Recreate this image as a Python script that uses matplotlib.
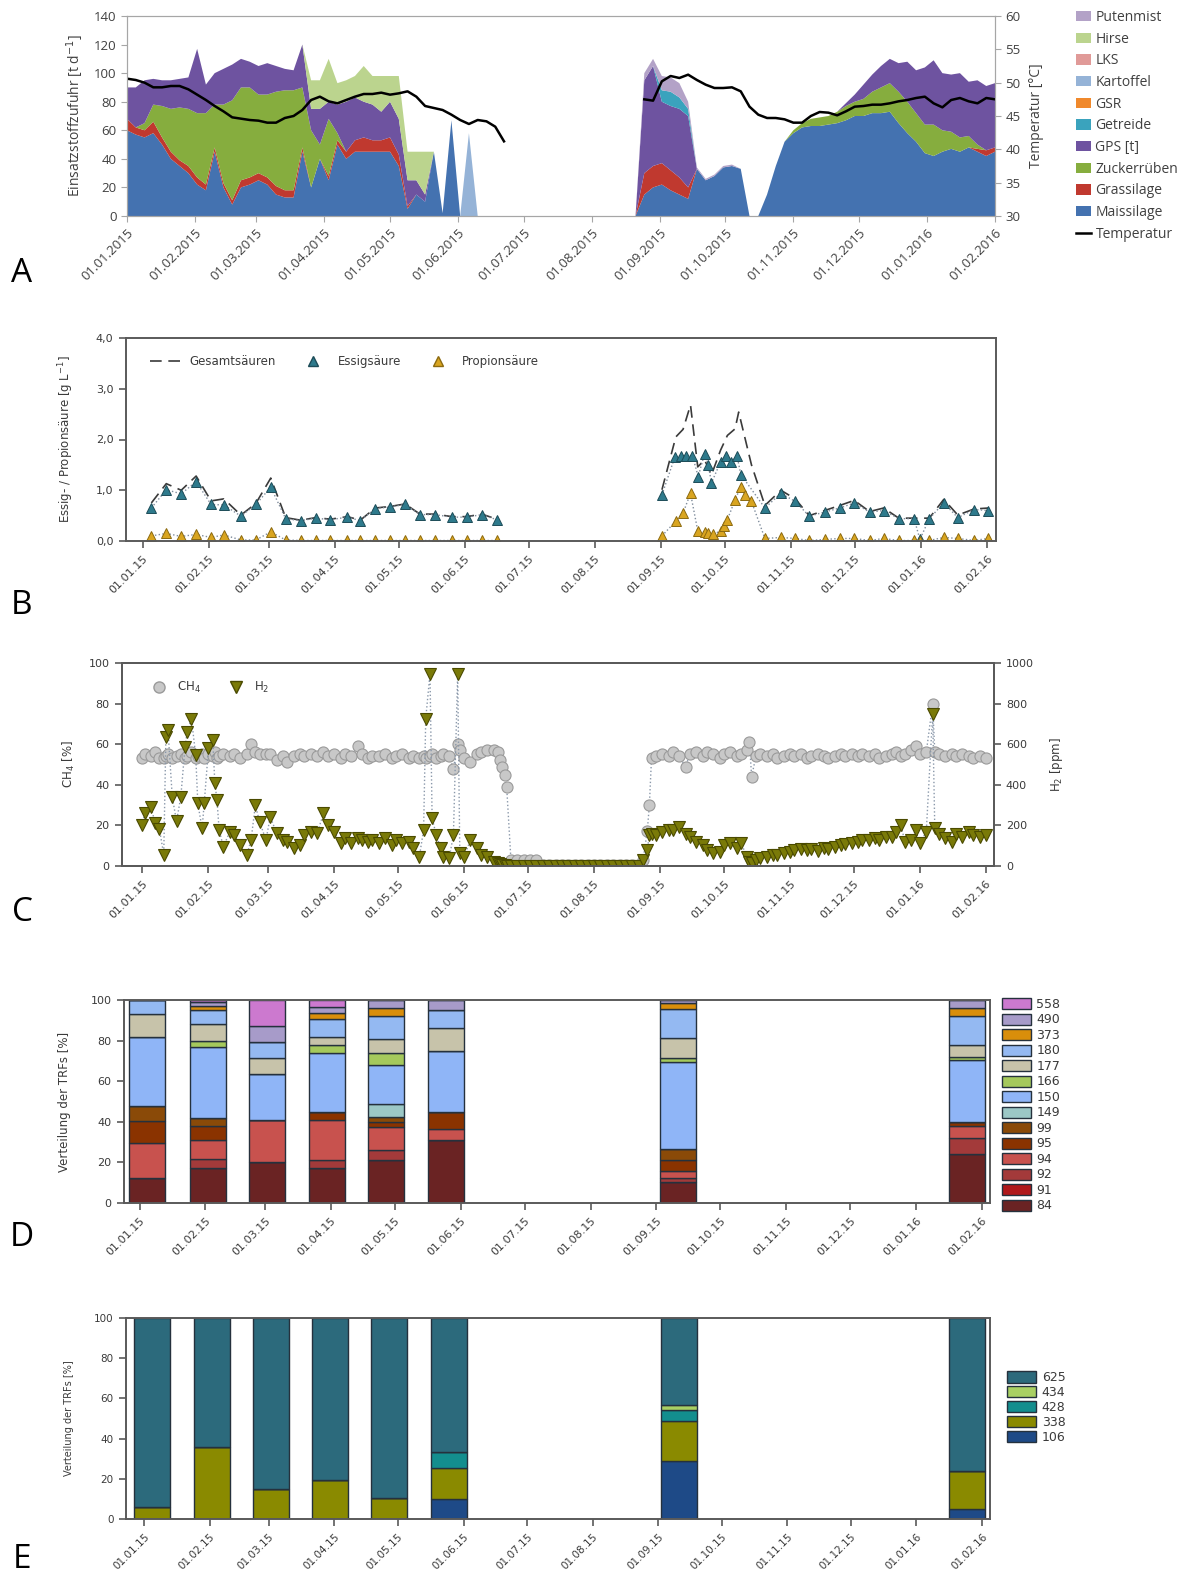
"""
Fermenter-Übersicht: Einsatzstoffe, Säuren, Gaszusammensetzung, TRF-Verteilungen (A-E)
"""

import numpy as np
import pandas as pd
import matplotlib
matplotlib.use("Agg")
import matplotlib.pyplot as plt
import matplotlib.dates as mdates
from matplotlib.lines import Line2D
from matplotlib.patches import Patch
from matplotlib.ticker import FuncFormatter

plt.rcParams['font.family'] = ['DejaVu Sans']
FONT_A = ['Open Sans', 'DejaVu Sans']

# ---------------- Daten A: Einsatzstoffzufuhr (4-Tages-Raster ab 01.01.2015) ----------------
a_mais = [
    60, 57, 55, 58, 50, 40, 35, 30, 22, 18,
    45, 20, 8, 20, 22, 25, 22, 15, 13, 13,
    45, 20, 40, 25, 50, 40, 45, 45, 45, 45,
    45, 35, 5, 15, 10, 45, 2, 67, 0, 0,
    0, 0, 0, 0, 0, 0, 0, 0, 0, 0,
    0, 0, 0, 0, 0, 0, 0, 0, 0, 15,
    20, 22, 18, 15, 12, 33, 25, 28, 34, 35,
    33, 0, 0, 15, 35, 52, 58, 62, 63, 63,
    64, 65, 67, 70, 70, 72, 72, 73, 65, 58,
    52, 44, 42, 45, 47, 45, 48, 45, 42, 45]
a_gras = [
    8, 5, 5, 8, 5, 5, 4, 5, 5, 4,
    3, 3, 3, 5, 5, 5, 5, 6, 5, 5,
    3, 0, 0, 3, 3, 5, 8, 10, 8, 8,
    10, 8, 2, 0, 0, 0, 0, 0, 0, 0,
    0, 0, 0, 0, 0, 0, 0, 0, 0, 0,
    0, 0, 0, 0, 0, 0, 0, 0, 0, 15,
    15, 15, 14, 12, 8, 0, 0, 0, 0, 0,
    0, 0, 0, 0, 0, 0, 0, 0, 0, 0,
    0, 0, 0, 0, 0, 0, 0, 0, 0, 0,
    0, 0, 0, 0, 0, 0, 0, 2, 4, 3]
a_zucker = [
    0, 0, 5, 12, 22, 30, 37, 40, 45, 50,
    30, 55, 70, 65, 63, 55, 58, 66, 70, 70,
    42, 40, 10, 40, 5, 0, 0, 0, 0, 0,
    0, 0, 0, 0, 0, 0, 0, 0, 0, 0,
    0, 0, 0, 0, 0, 0, 0, 0, 0, 0,
    0, 0, 0, 0, 0, 0, 0, 0, 0, 0,
    0, 0, 0, 0, 0, 0, 0, 0, 0, 0,
    0, 0, 0, 0, 0, 0, 2, 3, 5, 6,
    6, 8, 10, 10, 12, 15, 18, 20, 22, 22,
    20, 20, 22, 15, 12, 10, 8, 3, 0, 0]
a_gps = [
    22, 28, 30, 18, 18, 20, 20, 22, 45, 20,
    22, 25, 25, 20, 18, 20, 22, 18, 15, 14,
    30, 15, 25, 12, 20, 35, 30, 25, 25, 20,
    25, 25, 18, 10, 5, 0, 0, 0, 0, 0,
    0, 0, 0, 0, 0, 0, 0, 0, 0, 0,
    0, 0, 0, 0, 0, 0, 0, 0, 0, 65,
    70, 43, 45, 48, 50, 0, 0, 0, 0, 0,
    0, 0, 0, 0, 0, 0, 0, 0, 0, 0,
    0, 0, 2, 5, 10, 12, 15, 17, 20, 28,
    30, 40, 45, 40, 40, 45, 38, 45, 45, 45]
a_getreide = [
    0, 0, 0, 0, 0, 0, 0, 0, 0, 0,
    0, 0, 0, 0, 0, 0, 0, 0, 0, 0,
    0, 0, 0, 0, 0, 0, 0, 0, 0, 0,
    0, 0, 0, 0, 0, 0, 0, 0, 0, 0,
    0, 0, 0, 0, 0, 0, 0, 0, 0, 0,
    0, 0, 0, 0, 0, 0, 0, 0, 0, 0,
    0, 8, 10, 8, 5, 0, 0, 0, 0, 0,
    0, 0, 0, 0, 0, 0, 0, 0, 0, 0,
    0, 0, 0, 0, 0, 0, 0, 0, 0, 0,
    0, 0, 0, 0, 0, 0, 0, 0, 0, 0]
a_kartoffel = [
    0, 0, 0, 0, 0, 0, 0, 0, 0, 0,
    0, 0, 0, 0, 0, 0, 0, 0, 0, 0,
    0, 0, 0, 0, 0, 0, 0, 0, 0, 0,
    0, 0, 0, 0, 0, 0, 0, 0, 0, 58,
    0, 0, 0, 0, 0, 0, 0, 0, 0, 0,
    0, 0, 0, 0, 0, 0, 0, 0, 0, 0,
    0, 0, 0, 0, 0, 0, 0, 0, 0, 0,
    0, 0, 0, 0, 0, 0, 0, 0, 0, 0,
    0, 0, 0, 0, 0, 0, 0, 0, 0, 0,
    0, 0, 0, 0, 0, 0, 0, 0, 0, 0]
a_hirse = [
    0, 0, 0, 0, 0, 0, 0, 0, 0, 0,
    0, 0, 0, 0, 0, 0, 0, 0, 0, 0,
    0, 20, 20, 30, 15, 15, 15, 25, 20, 25,
    18, 30, 20, 20, 30, 0, 0, 0, 0, 0,
    0, 0, 0, 0, 0, 0, 0, 0, 0, 0,
    0, 0, 0, 0, 0, 0, 0, 0, 0, 0,
    0, 0, 0, 0, 0, 0, 0, 0, 0, 0,
    0, 0, 0, 0, 0, 0, 0, 0, 0, 0,
    0, 0, 0, 0, 0, 0, 0, 0, 0, 0,
    0, 0, 0, 0, 0, 0, 0, 0, 0, 0]
a_putenmist = [
    0, 0, 0, 0, 0, 0, 0, 0, 0, 0,
    0, 0, 0, 0, 0, 0, 0, 0, 0, 0,
    0, 0, 0, 0, 0, 0, 0, 0, 0, 0,
    0, 0, 0, 0, 0, 0, 0, 0, 0, 0,
    0, 0, 0, 0, 0, 0, 0, 0, 0, 0,
    0, 0, 0, 0, 0, 0, 0, 0, 0, 5,
    5, 10, 10, 10, 5, 1, 1, 1, 1, 1,
    0, 0, 0, 0, 0, 0, 0, 0, 0, 0,
    0, 0, 0, 0, 0, 0, 0, 0, 0, 0,
    0, 0, 0, 0, 0, 0, 0, 0, 0, 0]
a_gsr = np.zeros(len(a_mais))   # im Bild nicht sichtbar
a_lks = np.zeros(len(a_mais))
nan = np.nan
a_temp = [
    50.6, 50.4, 50.0, 49.3, 49.3, 49.5, 49.5, 49.0, 48.2, 47.4,
    46.5, 45.7, 44.8, 44.6, 44.4, 44.3, 44.0, 44.0, 44.7, 45.0,
    45.9, 47.4, 47.9, 47.2, 46.9, 47.4, 47.9, 48.3, 48.3, 48.5,
    48.2, 48.4, 48.7, 47.9, 46.5, 46.2, 45.9, 45.2, 44.4, 43.8,
    44.4, 44.2, 43.4, 41.2, nan, nan, nan, nan, nan, nan,
    nan, nan, nan, nan, nan, nan, nan, nan, nan, 47.5,
    47.3, 50.2, 51.0, 50.7, 51.2, 50.4, 49.7, 49.2, 49.2, 49.3,
    48.7, 46.4, 45.2, 44.7, 44.7, 44.5, 44.0, 44.0, 45.0, 45.6,
    45.5, 45.1, 45.7, 46.4, 46.5, 46.7, 46.7, 46.9, 47.2, 47.4,
    47.7, 47.9, 46.9, 46.3, 47.4, 47.7, 47.2, 46.9, 47.7, 47.5]

a_names = ['Maissilage', 'Grassilage', 'Zuckerrüben', 'GPS [t]', 'Getreide',
           'GSR', 'Kartoffel', 'LKS', 'Hirse', 'Putenmist']
a_colors = ['#4472B0', '#C0392F', '#86AD3E', '#6E53A0', '#3AA3BD',
            '#F0892C', '#95B3D7', '#E09A98', '#BBD48E', '#B3A2C7']

# ---------------- Daten B: Säuren (Tage ab 01.01.2015) ----------------
b_ess_days = [4, 11, 18, 25, 32, 38, 46, 53, 60, 67, 74, 81, 88, 96, 102, 109, 116, 123,
              130, 137, 145, 152, 159, 166,
              243.5, 249.6, 252.5, 255, 257.8, 260.5, 263.5, 265.3, 266.7, 271, 273.4, 276,
              278.7, 280.5, 291.8, 299.3, 306, 312.6, 319.8, 326.9, 333.7, 340.9, 347.5,
              354.6, 361.8, 364.5, 368.9, 375.7, 382.3, 389.8, 396.6]
b_ess = [0.65, 1.01, 0.93, 1.17, 0.72, 0.71, 0.49, 0.72, 1.06, 0.44, 0.40, 0.45, 0.42, 0.47,
         0.40, 0.64, 0.67, 0.72, 0.52, 0.52, 0.47, 0.47, 0.52, 0.42,
         0.91, 1.66, 1.68, 1.68, 1.68, 1.27, 1.72, 1.50, 1.14, 1.56, 1.68, 1.56, 1.68, 1.31,
         0.65, 0.94, 0.78, 0.49, 0.57, 0.65, 0.75, 0.57, 0.60, 0.44, 0.44, 0.03, 0.44, 0.75,
         0.46, 0.62, 0.60]
b_prop_days = [4, 11, 18, 25, 32, 38, 46, 53, 60, 67, 74, 81, 88, 96, 102, 109, 116, 123,
               130, 137, 145, 152, 159, 166,
               243.5, 250, 253.4, 256.9, 260.3, 263.5, 265.3, 267.5, 271, 272.5, 274.2, 277.8,
               280.5, 282.3, 285.5, 291.8, 299.3, 306, 312.6, 319.8, 326.9, 333.7, 340.9,
               347.5, 354.6, 361.8, 364.5, 368.9, 375.7, 382.3, 389.8, 396.6]
b_prop = [0.10, 0.15, 0.09, 0.13, 0.07, 0.12, 0.02, 0.02, 0.18, 0.02, 0.01, 0.01, 0.01, 0.01,
          0.01, 0.01, 0.01, 0.01, 0.01, 0.01, 0.01, 0.01, 0.01, 0.01,
          0.10, 0.39, 0.55, 0.94, 0.20, 0.18, 0.15, 0.13, 0.20, 0.29, 0.42, 0.81, 1.07, 0.91,
          0.78, 0.05, 0.07, 0.05, 0.01, 0.03, 0.05, 0.05, 0.01, 0.05, 0.01, 0.01, 0.0, 0.01,
          0.07, 0.05, 0.01, 0.05]
b_ges_days = [4, 11, 18, 25, 32, 38, 46, 53, 60, 67, 74, 81, 88, 96, 102, 109, 116, 123,
              130, 137, 145, 152, 159, 166,
              243.5, 250, 253.4, 256.9, 260.3, 263.5, 266.7, 271, 274.2, 277.8, 279.5, 285.5,
              291.8, 299.3, 306, 312.6, 319.8, 326.9, 333.7, 340.9, 347.5, 354.6, 361.8,
              368.9, 375.7, 382.3, 389.8, 396.6]
b_ges = [0.75, 1.13, 1.00, 1.28, 0.79, 0.83, 0.51, 0.74, 1.24, 0.46, 0.41, 0.46, 0.43, 0.48,
         0.41, 0.65, 0.68, 0.73, 0.53, 0.53, 0.48, 0.48, 0.53, 0.43,
         1.01, 2.05, 2.20, 2.68, 1.46, 1.60, 1.30, 1.79, 2.08, 2.21, 2.54, 1.50, 0.70, 1.00,
         0.83, 0.50, 0.60, 0.70, 0.80, 0.58, 0.65, 0.45, 0.45, 0.45, 0.82, 0.51, 0.63, 0.65]

# ---------------- Daten C: CH4 [%] und H2 [ppm] ----------------
c_days = [0, 1, 4, 6, 8, 10, 11, 12, 14, 16,
          18, 20, 21, 23, 25, 26, 28, 29, 31, 33,
          34, 35, 36, 38, 41, 43, 46, 49, 51, 53,
          55, 58, 60, 63, 66, 68, 71, 74, 76, 79,
          82, 85, 87, 90, 93, 95, 98, 101, 103, 106,
          108, 111, 114, 117, 119, 122, 125, 127, 130, 132,
          133, 135, 136, 138, 140, 141, 144, 146, 148, 149,
          151, 154, 157, 159, 162, 165, 167, 168, 169, 170,
          171, 173, 176, 179, 182, 185, 188, 191, 194, 197,
          200, 203, 206, 209, 212, 215, 218, 221, 224, 227,
          230, 233, 235, 237, 238, 239, 241, 244, 247, 249,
          252, 255, 257, 260, 263, 265, 268, 271, 273, 276,
          279, 281, 284, 285, 286, 288, 290, 293, 296, 298,
          301, 304, 306, 309, 312, 314, 317, 320, 322, 325,
          328, 330, 333, 336, 338, 341, 344, 346, 349, 352,
          354, 356, 358, 361, 363, 365, 368, 371, 372, 374,
          377, 380, 382, 385, 388, 390, 393, 396]
c_h2 = [200, 260, 290, 210, 180, 55, 635, 670, 340, 220,
        340, 587, 660, 726, 546, 308, 185, 308, 579, 620,
        407, 325, 177, 95, 169, 152, 103, 54, 128, 300,
        218, 128, 243, 161, 128, 120, 87, 103, 152, 169,
        161, 259, 202, 169, 111, 136, 111, 136, 128, 120,
        128, 111, 136, 103, 128, 111, 120, 87, 46, 177,
        726, 948, 234, 152, 87, 46, 38, 152, 948, 62,
        46, 128, 87, 54, 46, 21, 13, 8, 5, 5,
        0, 0, 0, 0, 0, 0, 0, 0, 0, 0,
        0, 0, 0, 0, 0, 0, 0, 0, 0, 0,
        0, 0, 30, 79, 152, 160, 152, 169, 177, 177,
        190, 160, 144, 120, 103, 79, 62, 70, 103, 111,
        87, 111, 46, 21, 13, 30, 38, 46, 54, 54,
        62, 70, 79, 82, 79, 82, 75, 87, 82, 95,
        103, 108, 115, 120, 128, 128, 136, 128, 144, 144,
        169, 202, 120, 128, 177, 111, 169, 750, 185, 160,
        136, 120, 160, 144, 169, 152, 144, 152]
c_ch4 = [53, 55, 54, 56, 53, 53, 54, 55, 53, 54,
         55, 53, 54, 56, 53, 54, 55, 53, 55, 54,
         56, 53, 54, 55, 54, 55, 53, 55, 60, 56,
         55, 55, 55, 52, 54, 51, 54, 55, 54, 55,
         54, 56, 54, 55, 53, 55, 54, 59, 55, 53,
         54, 54, 55, 53, 54, 55, 53, 54, 53, 54,
         53, 54, 55, 53, 54, 55, 54, 48, 60, 57,
         53, 51, 55, 56, 57, 57, 56, 52, 49, 45,
         39, 3, 3, 3, 3, 3, 0.5, 0.5, 0.5, 0.5,
         0.5, 0.5, 0.5, 0.5, 0.5, 0.5, 0.5, 0.5, 0.5, 0.5,
         0.5, 0.5, 3, 17, 30, 53, 54, 55, 54, 56,
         54, 49, 55, 56, 54, 56, 55, 53, 55, 56,
         54, 55, 57, 61, 44, 54, 55, 54, 55, 53,
         54, 55, 54, 55, 53, 54, 55, 54, 53, 54,
         55, 54, 55, 54, 55, 54, 55, 53, 54, 55,
         56, 54, 55, 57, 59, 55, 56, 80, 56, 55,
         54, 55, 54, 55, 54, 53, 54, 53]

# ---------------- Daten D/E: TRF-Verteilung [%] ----------------
trf_days = [3.6, 32, 60, 88, 116, 144, 253, 389]
d_cats = ['84', '91', '92', '94', '95', '99', '149', '150', '166', '177', '180', '373', '490', '558']
d_vals = {
    '84':  [12.3, 17, 20, 17, 21, 31, 10.2, 24],
    '91':  [0, 0, 0, 0, 0, 0, 0, 0],
    '92':  [0, 4.5, 0, 4, 5, 0, 2.1, 8],
    '94':  [17.2, 9.5, 21, 20, 11.5, 5.5, 3.3, 6],
    '95':  [11, 7, 0, 4, 2.5, 8.5, 5.7, 2],
    '99':  [7.5, 4, 0, 0, 2.5, 0, 5.2, 0],
    '149': [0, 0, 0, 0, 6.5, 0, 0, 0],
    '150': [34, 35, 22.5, 29, 19, 30, 43.1, 30.5],
    '166': [0, 3, 0, 4, 6, 0, 1.6, 1.5],
    '177': [11, 8, 8, 4, 7, 11, 10.3, 6],
    '180': [7, 7, 8, 8.5, 11, 9, 14.3, 14],
    '373': [0, 2, 0, 3, 4, 0, 2.8, 4],
    '490': [0, 2, 7.5, 3, 4, 5, 1.4, 4],
    '558': [0, 1, 13, 3.5, 0, 0, 0, 0],
}
d_colors = {'84': '#6A2323', '91': '#B0181A', '92': '#A33A3A', '94': '#C8524E',
            '95': '#8A3300', '99': '#8A4A08', '149': '#9CC8C6', '150': '#8FB5F7',
            '166': '#A5C95C', '177': '#C7C3AA', '180': '#94B9F2', '373': '#D98E0B',
            '490': '#A79BC9', '558': '#CC79CF'}

e_cats = ['106', '338', '428', '434', '625']
e_vals = {
    '106': [0, 0, 0, 0, 0, 10, 29, 5],
    '338': [6, 36, 15, 19.5, 10.5, 15.5, 20, 19],
    '428': [0, 0, 0, 0, 0, 8, 5, 0],
    '434': [0, 0, 0, 0, 0, 0, 2.5, 0],
    '625': [94, 64, 85, 80.5, 89.5, 66.5, 43.5, 76],
}
e_colors = {'106': '#1E4A87', '338': '#8A8A00', '428': '#138E8E', '434': '#A9D063',
            '625': '#2C6A7C'}

# ---------------- Hilfsfunktionen ----------------
W, H = 1202, 1584
T0 = pd.Timestamp('2015-01-01')
MONTHS = pd.date_range('2015-01-01', '2016-02-01', freq='MS')
MONTH_NUM = mdates.date2num(MONTHS)
EDGE = '#5A5A5A'
TXT = '#3A3A3A'


def d2n(days):
    """Tage ab 01.01.2015 -> matplotlib-Datumszahl"""
    return mdates.date2num(T0 + pd.to_timedelta(np.asarray(days, dtype=float), unit='D'))


fig = plt.figure(figsize=(W / 100, H / 100), dpi=100)


def add_ax(l, t, r, b):
    return fig.add_axes([l / W, 1 - b / H, (r - l) / W, (b - t) / H])


def style_box(ax, xlim_days, labelsize=8):
    ax.set_xlim(*d2n(xlim_days))
    ax.set_xticks(MONTH_NUM)
    ax.set_xticklabels([m.strftime('%d.%m.%y') for m in MONTHS], rotation=45, ha='right',
                       rotation_mode='anchor', fontsize=labelsize, color=TXT)
    for s in ax.spines.values():
        s.set_color(EDGE)
        s.set_linewidth(1.4)
    ax.tick_params(axis='both', direction='out', length=5, width=1.2, color=EDGE,
                   labelsize=labelsize, labelcolor=TXT, pad=4)


# ---------------- A ----------------
axA = add_ax(127, 16, 995, 216)
xa = mdates.date2num(pd.date_range('2015-01-01', '2016-02-01', freq='4D'))
axA.stackplot(xa, a_mais, a_gras, a_zucker, a_gps, a_getreide, a_gsr, a_kartoffel,
              a_lks, a_hirse, a_putenmist, colors=a_colors, linewidth=0)
axA.set_xlim(xa[0], xa[-1])
axA.set_ylim(0, 140)
axA.set_yticks(range(0, 141, 20))
axA.set_xticks(MONTH_NUM)
axA.set_xticklabels([m.strftime('%d.%m.%Y') for m in MONTHS], rotation=45, ha='right',
                    rotation_mode='anchor', fontsize=9.5, color='#404040', family=FONT_A)
for lab in axA.get_yticklabels():
    lab.set_family(FONT_A)
axA.tick_params(axis='both', direction='out', length=4, color='#A6A6A6',
                labelsize=9.5, labelcolor='#404040')
axA.set_ylabel('Einsatzstoffzufuhr [t d$^{-1}$]', fontsize=10, color='#404040',
               family=FONT_A, labelpad=6)
for s in axA.spines.values():
    s.set_color('#A6A6A6')

axT = axA.twinx()
axT.plot(xa, a_temp, color='black', lw=1.8)
axT.set_ylim(30, 60)
axT.set_yticks(range(30, 61, 5))
for lab in axT.get_yticklabels():
    lab.set_family(FONT_A)
axT.tick_params(axis='y', direction='out', length=4, color='#A6A6A6',
                labelsize=9.5, labelcolor='#404040')
axT.set_ylabel('Temperatur [°C]', fontsize=10, color='#404040', family=FONT_A, labelpad=6)
for s in axT.spines.values():
    s.set_color('#A6A6A6')

hA = [Patch(facecolor=c) for c in reversed(a_colors)]
hA.append(Line2D([0], [0], color='black', lw=1.8))
fig.legend(hA, list(reversed(a_names)) + ['Temperatur'], loc='upper left',
           bbox_to_anchor=(1076 / W, 1 - 10 / H), frameon=False,
           prop={'family': FONT_A, 'size': 10}, labelcolor='#404040',
           handlelength=1.1, handleheight=0.75, labelspacing=0.48, handletextpad=0.3,
           borderaxespad=0, borderpad=0)

# ---------------- B ----------------
axB = add_ax(126, 338, 996, 541)
dot = dict(ls=':', color='#7F8C9C', lw=1.0)
for days, vals, kw in [(b_ges_days, b_ges, dict(color='#3A3A3A', lw=1.2, dashes=(7, 4))),
                       (b_ess_days, b_ess, dot), (b_prop_days, b_prop, dot)]:
    days = np.asarray(days)
    vals = np.asarray(vals)
    for seg in (days < 200, days > 200):
        axB.plot(d2n(days[seg]), vals[seg], **kw)
axB.plot(d2n(b_ess_days), b_ess, ls='none', marker='^', ms=7, mfc='#2E7A8C', mec='#1D4C58', mew=0.7)
axB.plot(d2n(b_prop_days), b_prop, ls='none', marker='^', ms=7, mfc='#D9A520', mec='#8C6A10', mew=0.7)
axB.set_ylim(0, 4)
axB.set_yticks([0, 1, 2, 3, 4])
axB.yaxis.set_major_formatter(FuncFormatter(lambda v, p: f'{v:.1f}'.replace('.', ',')))
style_box(axB, (-7.9, 400.2))
axB.set_ylabel('Essig- / Propionsäure [g L$^{-1}$]', fontsize=8.5, color=TXT, labelpad=14)
hB = [Line2D([], [], color='#3A3A3A', lw=1.2, dashes=(7, 4)),
      Line2D([], [], ls='none', marker='^', ms=7, mfc='#2E7A8C', mec='#1D4C58'),
      Line2D([], [], ls='none', marker='^', ms=7, mfc='#D9A520', mec='#8C6A10')]
axB.legend(hB, ['Gesamtsäuren', 'Essigsäure', 'Propionsäure'], loc='upper left',
           bbox_to_anchor=(0.015, 0.97), ncol=3, frameon=False, fontsize=8.5, labelcolor=TXT,
           handlelength=2.6, columnspacing=1.8, handletextpad=0.8)

# ---------------- C ----------------
axC = add_ax(122, 663, 994, 866)
xc = d2n(c_days)
axC.plot(xc, c_ch4, ls=':', color='#8A98AA', lw=1.0, marker='o', ms=8,
         mfc='#C8C8C8', mec='#9A9A9A', mew=0.8)
axC.set_ylim(0, 100)
axC.set_yticks(range(0, 101, 20))
style_box(axC, (-9.6, 399.8))
axC.set_ylabel('CH$_4$ [%]', fontsize=8.5, color=TXT, labelpad=8)
axC2 = axC.twinx()
axC2.plot(xc, c_h2, ls=':', color='#8A98AA', lw=1.0, marker='v', ms=8,
          mfc='#7A7A08', mec='#4A4A00', mew=0.8)
axC2.set_ylim(0, 1000)
axC2.set_yticks(range(0, 1001, 200))
axC2.tick_params(axis='y', direction='out', length=5, width=1.2, color=EDGE,
                 labelsize=8, labelcolor=TXT)
for s in axC2.spines.values():
    s.set_color(EDGE)
    s.set_linewidth(1.4)
axC2.set_ylabel('H$_2$ [ppm]', fontsize=8.5, color=TXT, labelpad=10)
hC = [Line2D([], [], ls='none', marker='o', ms=8, mfc='#C8C8C8', mec='#9A9A9A'),
      Line2D([], [], ls='none', marker='v', ms=8, mfc='#7A7A08', mec='#4A4A00')]
axC2.legend(hC, ['CH$_4$', 'H$_2$'], loc='upper left', bbox_to_anchor=(0.02, 0.97), ncol=2,
            frameon=False, fontsize=8.5, labelcolor=TXT, handlelength=1.5, columnspacing=2.2)


# ---------------- D / E ----------------
def stacked_bars(ax, cats, vals, colors):
    x = d2n(trf_days)
    bottom = np.zeros(len(trf_days))
    for k in cats:
        v = np.asarray(vals[k], dtype=float)
        ax.bar(x, v, width=17, bottom=bottom, color=colors[k], edgecolor='#25313D', linewidth=1.0)
        bottom += v
    ax.set_ylim(0, 100)
    ax.set_yticks(range(0, 101, 20))


axD = add_ax(124, 1000, 990, 1203)
stacked_bars(axD, d_cats, d_vals, d_colors)
style_box(axD, (-7.3, 399.8))
axD.set_ylabel('Verteilung der TRFs [%]', fontsize=8.5, color=TXT, labelpad=14)
hD = [Patch(facecolor=d_colors[k], edgecolor='#25313D', linewidth=1) for k in reversed(d_cats)]
axD.legend(hD, list(reversed(d_cats)), loc='upper left', bbox_to_anchor=(1.014, 1.01),
           frameon=False, fontsize=9, labelcolor=TXT, handlelength=2.3, handleheight=1.0,
           labelspacing=0.2, handletextpad=0.45, borderaxespad=0, borderpad=0)

axE = add_ax(126, 1318, 990, 1519)
stacked_bars(axE, e_cats, e_vals, e_colors)
style_box(axE, (-8.5, 399.8), labelsize=7.5)
axE.set_ylabel('Verteilung der TRFs [%]', fontsize=7, color=TXT, labelpad=14)
hE = [Patch(facecolor=e_colors[k], edgecolor='#25313D', linewidth=1) for k in reversed(e_cats)]
axE.legend(hE, list(reversed(e_cats)), loc='upper left', bbox_to_anchor=(1.02, 0.735),
           frameon=False, fontsize=9, labelcolor=TXT, handlelength=2.3, handleheight=1.0,
           labelspacing=0.15, handletextpad=0.45, borderaxespad=0, borderpad=0)

# ---------------- Panel-Buchstaben ----------------
for letter, y in [('A', 273), ('B', 606), ('C', 913), ('D', 1238), ('E', 1560)]:
    fig.text(22 / W, 1 - y / H, letter, fontsize=24, family=FONT_A, ha='center', va='center')

fig.savefig('out.png', dpi=100)
